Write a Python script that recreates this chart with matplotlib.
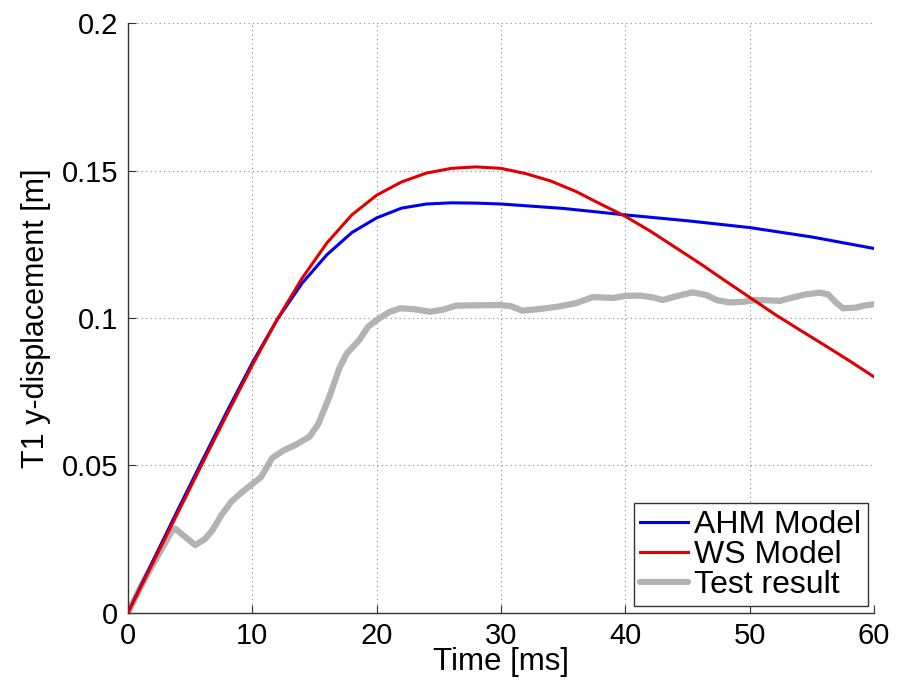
import numpy as np
import matplotlib
matplotlib.use("Agg")
import matplotlib.pyplot as plt

plt.rcParams['font.family'] = ['Liberation Sans', 'DejaVu Sans']

# AHM model
ahm_t = [0, 2, 4, 6, 8, 10, 12, 14, 16, 18, 20, 22, 24, 26, 28, 30, 35, 40, 45, 50, 55, 60]
ahm_y = [0, 0.0175, 0.0348, 0.0518, 0.0686, 0.0848, 0.0995, 0.1118, 0.1215, 0.1290, 0.1340,
         0.1373, 0.1387, 0.1391, 0.1390, 0.1387, 0.1372, 0.1350, 0.1330, 0.1307, 0.1275, 0.1236]

# WS model
ws_t = [0, 2, 4, 6, 8, 10, 12, 14, 16, 18, 20, 22, 24, 26, 28, 30, 32, 34, 36, 38, 40,
        42, 44, 46, 48, 50, 52, 54, 56, 58, 60]
ws_y = [0, 0.0168, 0.0338, 0.0508, 0.0676, 0.0840, 0.0995, 0.1135, 0.1255, 0.1350, 0.1417,
        0.1462, 0.1492, 0.1508, 0.1513, 0.1508, 0.1490, 0.1465, 0.1430, 0.1387, 0.1345,
        0.1295, 0.1240, 0.1185, 0.1127, 0.1070, 0.1013, 0.0960, 0.0908, 0.0855, 0.0800]

# test result
test_t = [0, 1.3, 2.5, 3.5, 3.8, 4.5, 5.4, 6.2, 6.8, 7.5, 8.3, 9.2, 9.9, 10.7, 11.6, 12.5,
          13.5, 14.6, 15.3, 16.2, 17.0, 17.6, 18.6, 19.3, 20.0, 21.0, 21.9, 23.0, 24.3, 25.3,
          26.4, 28.0, 29.9, 30.8, 31.7, 33.0, 34.5, 36.0, 37.4, 39.0, 40.0, 41.2, 42.2, 43.0,
          44.2, 45.4, 46.5, 47.4, 48.4, 49.5, 50.5, 51.5, 52.4, 53.5, 54.5, 55.6, 56.3, 57.0,
          57.5, 58.5, 59.2, 60.0]
test_y = [0, 0.011, 0.020, 0.0275, 0.0285, 0.026, 0.0229, 0.025, 0.028, 0.033, 0.0376, 0.041,
          0.0433, 0.046, 0.0525, 0.055, 0.057, 0.0597, 0.064, 0.0733, 0.083, 0.088, 0.0925,
          0.097, 0.0993, 0.102, 0.1033, 0.103, 0.1021, 0.1028, 0.1042, 0.1043, 0.1044, 0.104,
          0.1025, 0.103, 0.1038, 0.105, 0.1071, 0.1068, 0.1075, 0.1076, 0.107, 0.1061, 0.1075,
          0.1087, 0.1078, 0.106, 0.1053, 0.1055, 0.1061, 0.106, 0.1058, 0.107, 0.108, 0.1086,
          0.108, 0.105, 0.1033, 0.1035, 0.1042, 0.1047]

fig = plt.figure(figsize=(9.11, 6.90), dpi=100)
ax = fig.add_axes([0.1405, 0.1123, 0.819, 0.8537])

ax.plot(ahm_t, ahm_y, color='#0000ee', lw=2.2, label='AHM Model', zorder=3,
        solid_joinstyle='round')
ax.plot(ws_t, ws_y, color='#e00000', lw=2.2, label='WS Model', zorder=4,
        solid_joinstyle='round')
ax.plot(test_t, test_y, color='#b3b3b3', lw=4.5, label='Test result', zorder=2,
        solid_joinstyle='round', solid_capstyle='round')

ax.set_xlim(0, 60)
ax.set_ylim(0, 0.2)
ax.set_xticks(np.arange(0, 61, 10))
ax.set_yticks([0, 0.05, 0.1, 0.15, 0.2])
ax.set_yticklabels(['0', '0.05', '0.1', '0.15', '0.2'])

ax.grid(True, ls=(0, (1, 3)), color='#888888', lw=0.8)
for s in ['top', 'right']:
    ax.spines[s].set_visible(False)
for s in ['left', 'bottom']:
    ax.spines[s].set_color('#333333')
    ax.spines[s].set_linewidth(1.0)
ax.tick_params(direction='in', length=6, labelsize=21, color='#333333', pad=7)

ax.set_xlabel('Time [ms]', fontsize=22.5, labelpad=-2)
ax.set_ylabel('T1 y-displacement [m]', fontsize=22, labelpad=8)

leg = ax.legend(loc='lower right', fontsize=23, handlelength=1.5, handletextpad=0.2,
                labelspacing=0.0, borderpad=0.2, fancybox=False, framealpha=1,
                borderaxespad=0.2)
leg.get_frame().set_edgecolor('#333333')
leg.get_frame().set_linewidth(1.0)

fig.savefig('out.png', dpi=100)
